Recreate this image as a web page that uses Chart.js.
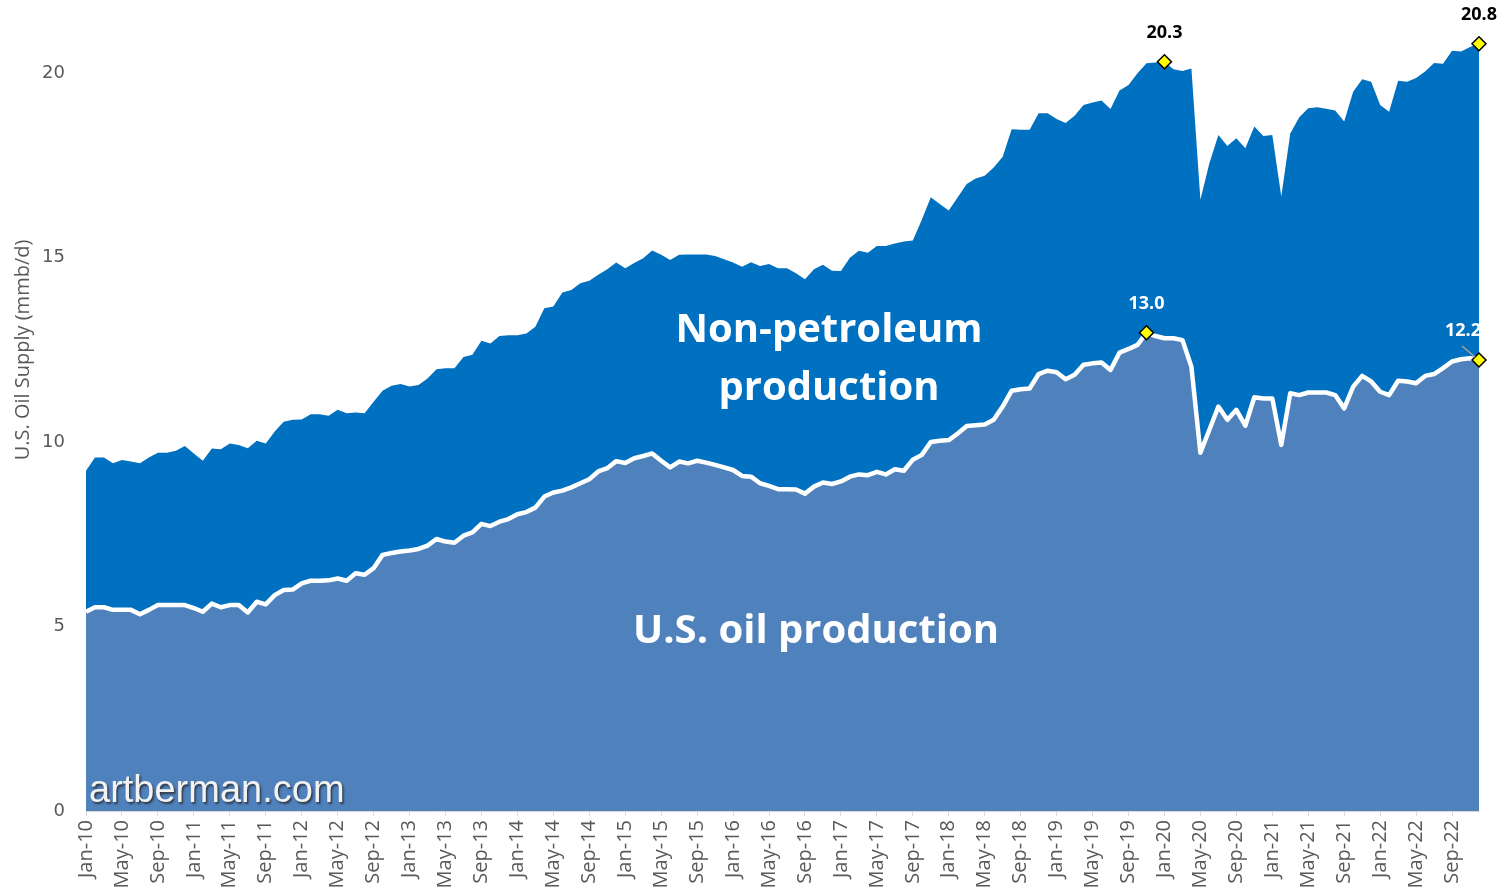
<!DOCTYPE html>
<html>
<head>
<meta charset="utf-8">
<script src="https://cdn.jsdelivr.net/npm/chart.js@4.4.1/dist/chart.umd.min.js"></script>
<style>
html, body { margin: 0; padding: 0; background: #fff; }
</style>
</head>
<body>
<canvas id="chart" width="1504" height="894"></canvas>
<script>
// month labels Jan-10 .. Dec-22
const monthNames = ['Jan','Feb','Mar','Apr','May','Jun','Jul','Aug','Sep','Oct','Nov','Dec'];
const months = [];
for (let y = 10; y <= 22; y++) {
    for (let m = 0; m < 12; m++) months.push(monthNames[m] + '-' + y);
}

// U.S. crude oil production (mmb/d)
const usOil = [
    5.40, 5.52, 5.52, 5.45, 5.45, 5.45, 5.33, 5.45, 5.58, 5.58, 5.58, 5.58,
    5.50, 5.40, 5.62, 5.52, 5.58, 5.58, 5.38, 5.67, 5.60, 5.85, 5.99, 6.00,
    6.17, 6.24, 6.24, 6.25, 6.30, 6.24, 6.44, 6.40, 6.58, 6.94, 6.99, 7.03,
    7.06, 7.10, 7.19, 7.37, 7.30, 7.27, 7.46, 7.55, 7.78, 7.72, 7.84, 7.91,
    8.04, 8.10, 8.22, 8.52, 8.63, 8.68, 8.77, 8.88, 8.99, 9.20, 9.29, 9.48,
    9.43, 9.56, 9.62, 9.69, 9.49, 9.31, 9.47, 9.42, 9.49, 9.44, 9.38, 9.31,
    9.24, 9.08, 9.06, 8.88, 8.81, 8.72, 8.72, 8.71, 8.60, 8.79, 8.90, 8.86,
    8.93, 9.06, 9.12, 9.10, 9.19, 9.12, 9.26, 9.22, 9.52, 9.65, 10.00, 10.03,
    10.05, 10.23, 10.43, 10.45, 10.47, 10.60, 10.96, 11.39, 11.43, 11.45, 11.84, 11.93,
    11.89, 11.70, 11.82, 12.09, 12.13, 12.15, 11.95, 12.42, 12.52, 12.63, 12.96, 12.87,
    12.81, 12.81, 12.76, 12.04, 9.71, 10.33, 10.96, 10.60, 10.87, 10.44, 11.21, 11.18,
    11.18, 9.92, 11.32, 11.27, 11.34, 11.34, 11.34, 11.27, 10.91, 11.50, 11.79, 11.64,
    11.36, 11.27, 11.66, 11.64, 11.59, 11.79, 11.84, 12.00, 12.18, 12.24, 12.27, 12.22
];

// total U.S. oil supply incl. non-petroleum (mmb/d)
const totalSupply = [
    9.22, 9.58, 9.58, 9.42, 9.51, 9.47, 9.42, 9.58, 9.71, 9.71, 9.76, 9.89,
    9.69, 9.49, 9.82, 9.80, 9.96, 9.92, 9.83, 10.03, 9.96, 10.28, 10.55, 10.60,
    10.61, 10.75, 10.75, 10.71, 10.87, 10.78, 10.80, 10.78, 11.09, 11.39, 11.52, 11.57,
    11.50, 11.54, 11.72, 11.97, 12.00, 12.00, 12.30, 12.36, 12.74, 12.67, 12.87, 12.89,
    12.89, 12.94, 13.12, 13.62, 13.67, 14.05, 14.12, 14.30, 14.37, 14.53, 14.68, 14.86,
    14.71, 14.85, 14.98, 15.19, 15.07, 14.93, 15.07, 15.08, 15.08, 15.08, 15.04, 14.95,
    14.86, 14.75, 14.87, 14.77, 14.82, 14.71, 14.71, 14.57, 14.41, 14.68, 14.80, 14.64,
    14.63, 14.99, 15.18, 15.13, 15.31, 15.31, 15.38, 15.43, 15.46, 16.02, 16.63, 16.45,
    16.27, 16.63, 16.99, 17.14, 17.21, 17.44, 17.73, 18.47, 18.46, 18.46, 18.91, 18.91,
    18.75, 18.64, 18.84, 19.13, 19.20, 19.25, 19.02, 19.52, 19.67, 19.99, 20.26, 20.28,
    20.30, 20.10, 20.05, 20.12, 16.56, 17.55, 18.32, 18.02, 18.23, 17.96, 18.55, 18.29,
    18.32, 16.65, 18.36, 18.80, 19.04, 19.07, 19.03, 18.98, 18.68, 19.49, 19.83, 19.76,
    19.13, 18.95, 19.79, 19.76, 19.86, 20.04, 20.27, 20.25, 20.60, 20.58, 20.70, 20.79
];

// highlighted months (index into months)
const oilMarks = [118, 155];   // Nov-19 peak, Dec-22
const totalMarks = [120, 155]; // Jan-20, Dec-22

const yTicks = [0, 5, 10, 15, 20];

const oilMarkData = usOil.map((v, i) => oilMarks.includes(i) ? v : null);
const totalMarkData = totalSupply.map((v, i) => totalMarks.includes(i) ? v : null);

const markerStyle = {
    type: 'line',
    showLine: false,
    fill: false,
    pointStyle: 'rectRot',
    pointRadius: 7,
    pointBackgroundColor: '#FFFF00',
    pointBorderColor: '#000',
    pointBorderWidth: 1.5
};

// texts drawn on top of the chart
const overlay = {
    id: 'overlay',
    afterDraw(chart) {
        const ctx = chart.ctx;
        ctx.save();

        // value labels above the markers
        const lbl = (dsIndex, idx, color, dx) => {
            const pt = chart.getDatasetMeta(dsIndex).data[idx];
            const v = chart.data.datasets[dsIndex].data[idx];
            ctx.fillStyle = color;
            ctx.font = 'bold 18px "Open Sans"';
            ctx.textAlign = 'center';
            ctx.textBaseline = 'middle';
            ctx.fillText(v.toFixed(1), pt.x + dx, pt.y - 29);
        };
        lbl(1, 120, '#000', 0);
        lbl(1, 155, '#000', 0);
        lbl(0, 118, '#fff', 0);
        lbl(0, 155, '#fff', -16);

        // small leader line for 12.2
        const p = chart.getDatasetMeta(0).data[155];
        ctx.strokeStyle = '#A6A6A6';
        ctx.lineWidth = 1.5;
        ctx.beginPath();
        ctx.moveTo(p.x - 17, p.y - 14);
        ctx.lineTo(p.x - 4, p.y - 3);
        ctx.stroke();

        // area names
        ctx.fillStyle = '#fff';
        ctx.font = 'bold 40px "Open Sans"';
        ctx.textAlign = 'center';
        ctx.textBaseline = 'middle';
        ctx.fillText('Non-petroleum', 829, 331);
        ctx.fillText('production', 829, 389);
        ctx.fillText('U.S. oil production', 816, 632);

        // watermark
        ctx.save();
        ctx.font = '38px "Liberation Sans"';
        ctx.textAlign = 'left';
        ctx.shadowColor = 'rgba(40,40,40,0.8)';
        ctx.shadowOffsetX = 1.5;
        ctx.shadowOffsetY = 1.5;
        ctx.shadowBlur = 2;
        ctx.fillStyle = '#F2F2F2';
        ctx.fillText('artberman.com', 89, 792);
        ctx.restore();

        // y axis title
        ctx.translate(23, 350);
        ctx.rotate(-Math.PI / 2);
        ctx.fillStyle = '#595959';
        ctx.font = '20px "Open Sans"';
        ctx.textAlign = 'center';
        ctx.textBaseline = 'middle';
        ctx.fillText('U.S. Oil Supply (mmb/d)', 0, 0);

        ctx.restore();
    }
};

new Chart(document.getElementById('chart'), {
    type: 'line',
    data: {
        labels: months,
        datasets: [{
            label: 'U.S. oil production',
            data: usOil,
            fill: 'origin',
            backgroundColor: '#4F81BD',
            borderColor: '#fff',
            borderWidth: 4.5,
            borderJoinStyle: 'round',
            pointRadius: 0,
            tension: 0,
            order: 2
        }, {
            label: 'Total supply',
            data: totalSupply,
            fill: 'origin',
            backgroundColor: '#0070C0',
            borderColor: '#0070C0',
            borderWidth: 0,
            pointRadius: 0,
            tension: 0,
            order: 3
        }, {
            ...markerStyle,
            label: 'oil marks',
            data: oilMarkData,
            order: 0
        }, {
            ...markerStyle,
            label: 'total marks',
            data: totalMarkData,
            order: 1
        }]
    },
    options: {
        responsive: false,
        animation: false,
        layout: { padding: { top: 36, right: 25, left: 0, bottom: 0 } },
        plugins: {
            legend: { display: false },
            tooltip: { enabled: false }
        },
        scales: {
            x: {
                offset: false,
                grid: { drawOnChartArea: false, drawTicks: true, tickLength: 5, color: '#D9D9D9' },
                border: { display: true, color: '#D9D9D9', width: 1 },
                ticks: {
                    autoSkip: false,
                    minRotation: 90,
                    maxRotation: 90,
                    padding: 4,
                    color: '#595959',
                    font: { family: 'Open Sans', size: 20 }
                },
                afterBuildTicks: s => { s.ticks = s.ticks.filter(t => t.value % 4 === 0); },
                afterFit: s => { s.height = 83; }
            },
            y: {
                min: 0,
                max: 21,
                grid: { display: false, drawTicks: false },
                border: { display: false },
                ticks: {
                    padding: 21,
                    color: '#595959',
                    font: { family: 'DejaVu Sans', size: 18 }
                },
                afterBuildTicks: s => { s.ticks = yTicks.map(v => ({ value: v })); },
                afterFit: s => { s.width = 86; }
            }
        }
    },
    plugins: [overlay]
});
</script>
</body>
</html>
